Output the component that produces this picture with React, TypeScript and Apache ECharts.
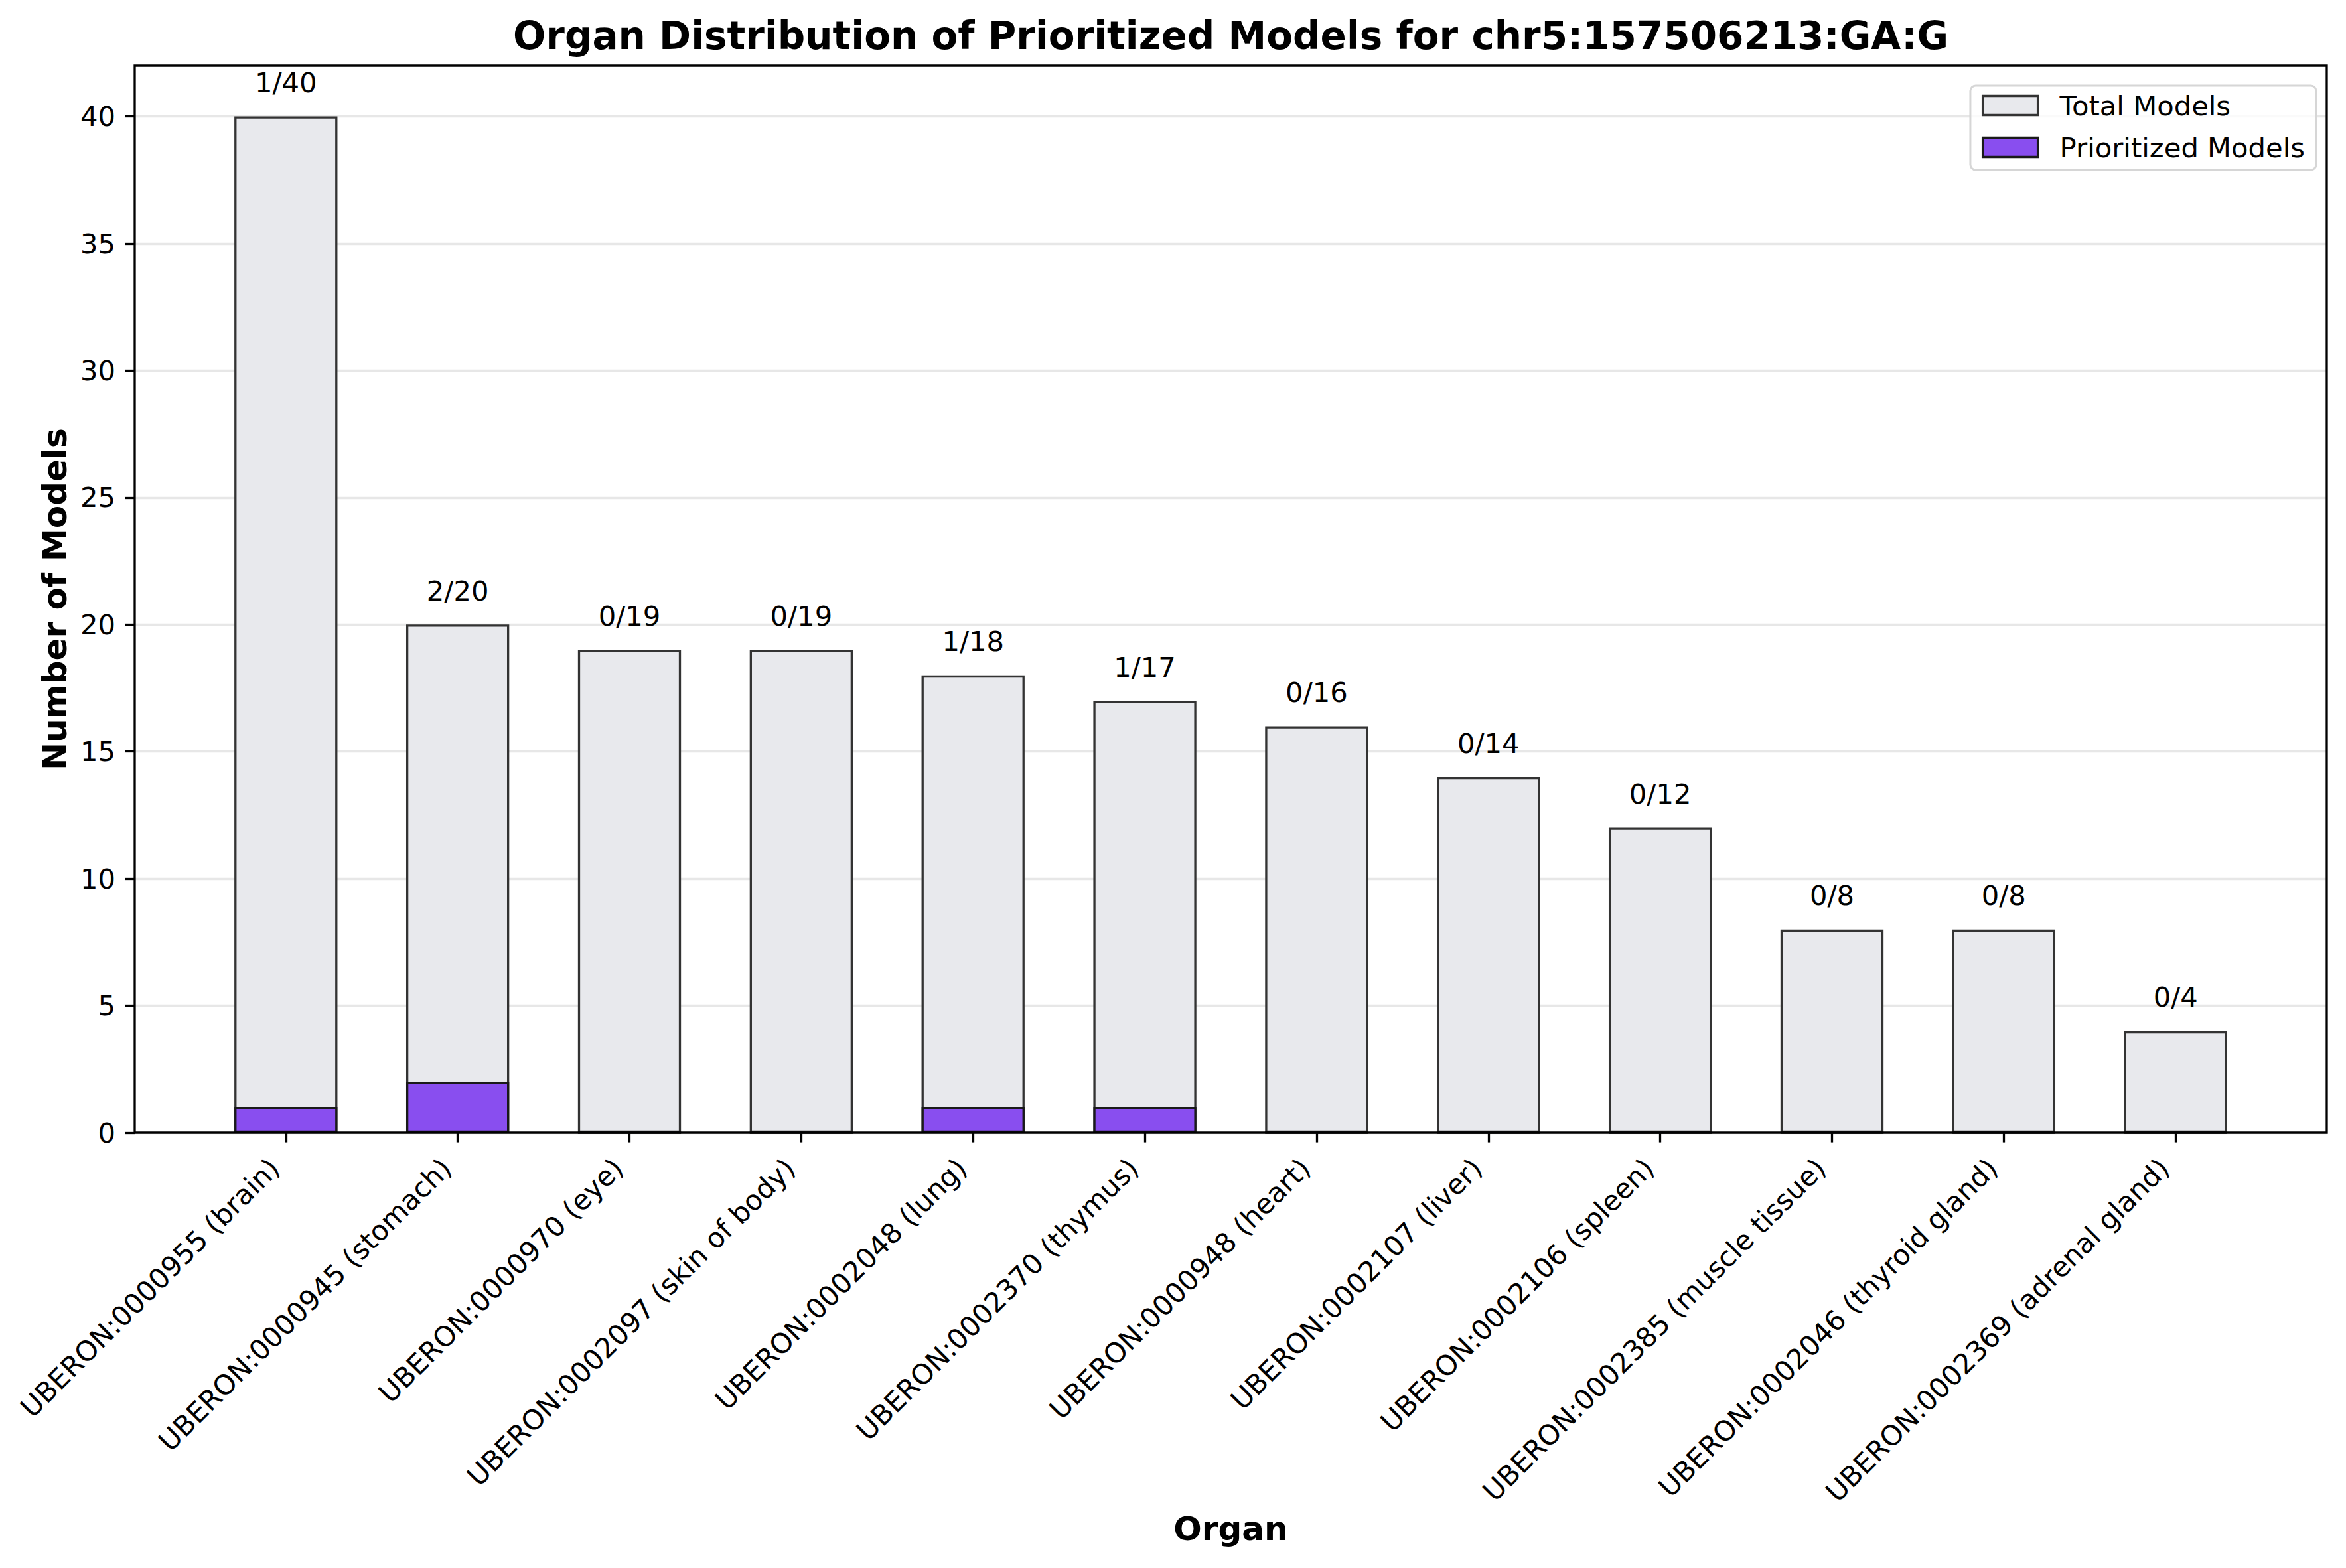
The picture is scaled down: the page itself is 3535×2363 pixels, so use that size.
import React, { useEffect, useRef } from "react";
import * as echarts from "echarts";

const categories = [
  "UBERON:0000955 (brain)",
  "UBERON:0000945 (stomach)",
  "UBERON:0000970 (eye)",
  "UBERON:0002097 (skin of body)",
  "UBERON:0002048 (lung)",
  "UBERON:0002370 (thymus)",
  "UBERON:0000948 (heart)",
  "UBERON:0002107 (liver)",
  "UBERON:0002106 (spleen)",
  "UBERON:0002385 (muscle tissue)",
  "UBERON:0002046 (thyroid gland)",
  "UBERON:0002369 (adrenal gland)",
];
const totalModels = [40, 20, 19, 19, 18, 17, 16, 14, 12, 8, 8, 4];
const prioritizedModels = [1, 2, 0, 0, 1, 1, 0, 0, 0, 0, 0, 0];
const yTicks = [0, 5, 10, 15, 20, 25, 30, 35, 40];
const yMin = 0;
const yMax = 42;
const yInterval = 5;

const titleText = "Organ Distribution of Prioritized Models for chr5:157506213:GA:G";
const xTitle = "Organ";
const yTitle = "Number of Models";

const FONT = "DejaVu Sans";

export default function App() {
  const ref = useRef<HTMLDivElement>(null);
  useEffect(() => {
    if (!ref.current) return;
    const chart = echarts.init(ref.current, null, { renderer: "svg" });
    const W = 3535;
    const frameL = 203, frameR = 3506, frameT = 99, frameB = 1707;
    const frameW = frameR - frameL;
    const frameH = frameB - frameT;
    const unit = frameW / 12.76;
    const barGridL = frameL + 0.38 * unit;
    const barGridW = 12 * unit;
    const lw = 3.3;
    chart.setOption({
      animation: false,
      backgroundColor: "#ffffff",
      textStyle: { fontFamily: FONT },
      grid: [
        { left: frameL, top: frameT, width: frameW, height: frameH },
        { left: barGridL, top: frameT, width: barGridW, height: frameH },
      ],
      xAxis: [
        { type: "value", gridIndex: 0, min: 0, max: 1, show: false },
        {
          type: "category", gridIndex: 1, data: categories,
          axisLine: { show: false },
          axisTick: { show: true, alignWithLabel: true, inside: false, length: 14.6, lineStyle: { color: "#000", width: lw } },
          axisLabel: {
            rotate: 45, fontSize: 41.7, color: "#000", fontFamily: FONT, margin: 29,
            interval: 0, padding: [0, 24, 0, 0],
          },
          splitLine: { show: false },
        },
      ],
      yAxis: [
        {
          type: "value", gridIndex: 0, min: yMin, max: yMax, interval: yInterval,
          axisLine: { show: false },
          axisTick: { show: true, inside: false, length: 14.6, lineStyle: { color: "#000", width: lw }, customValues: yTicks },
          axisLabel: { fontSize: 41.7, color: "#000", fontFamily: FONT, margin: 29, customValues: yTicks },
          splitLine: { show: true, lineStyle: { color: "#e7e7e7", width: lw } },
        },
        { type: "value", gridIndex: 1, min: yMin, max: yMax, show: false, splitLine: { show: false } },
      ],
      legend: {
        data: [
          { name: "Total Models", itemStyle: { color: "#e8e9ed", borderColor: "#333333", borderWidth: lw } },
          { name: "Prioritized Models", itemStyle: { color: "#894eef", borderColor: "#1a1a1a", borderWidth: lw } },
        ],
        orient: "vertical",
        right: W - 3490,
        top: 129,
        icon: "rect",
        itemWidth: 83,
        itemHeight: 29,
        itemGap: 15,
        padding: [6, 17, 10, 17],
        backgroundColor: "rgba(255,255,255,0.8)",
        borderColor: "#d6d6d6",
        borderWidth: 3,
        borderRadius: 8,
        textStyle: { fontSize: 41.7, color: "#000", fontFamily: FONT, lineHeight: 48, padding: [0, 0, 0, 28] },
      },
      series: [
        {
          name: "Total Models", type: "bar", xAxisIndex: 1, yAxisIndex: 1,
          data: totalModels, barWidth: "60%", barGap: "-100%", z: 2,
          itemStyle: { color: "#e8e9ed", borderColor: "#333333", borderWidth: lw },
          label: {
            show: true, position: "top", distance: 30, fontSize: 41.7, color: "#000", fontFamily: FONT,
            formatter: (p: any) => `${prioritizedModels[p.dataIndex]}/${totalModels[p.dataIndex]}`,
          },
        },
        {
          name: "Prioritized Models", type: "bar", xAxisIndex: 1, yAxisIndex: 1,
          data: prioritizedModels, barWidth: "60%", barGap: "-100%", z: 3,
          itemStyle: { color: "#894eef", borderColor: "#1a1a1a", borderWidth: lw },
        },
      ],
      graphic: [
        {
          type: "rect", z: 50, silent: true,
          shape: { x: frameL, y: frameT, width: frameW, height: frameH },
          style: { fill: "none", stroke: "#000000", lineWidth: lw },
        },
        {
          type: "text", x: (frameL + frameR) / 2, y: 54,
          style: { text: titleText, fontSize: 58, fontWeight: "bold", fontFamily: FONT, fill: "#000", align: "center", verticalAlign: "middle" },
        },
        {
          type: "text", x: (frameL + frameR) / 2, y: 2304,
          style: { text: xTitle, fontSize: 50, fontWeight: "bold", fontFamily: FONT, fill: "#000", align: "center", verticalAlign: "middle" },
        },
        {
          type: "text", x: 83, y: (frameT + frameB) / 2, rotation: Math.PI / 2,
          style: { text: yTitle, fontSize: 50, fontWeight: "bold", fontFamily: FONT, fill: "#000", align: "center", verticalAlign: "middle" },
        },
      ],
    });
    return () => chart.dispose();
  }, []);
  return <div ref={ref} style={{ position: "fixed", left: 0, top: 0, width: 3535, height: 2363 }} />;
}
